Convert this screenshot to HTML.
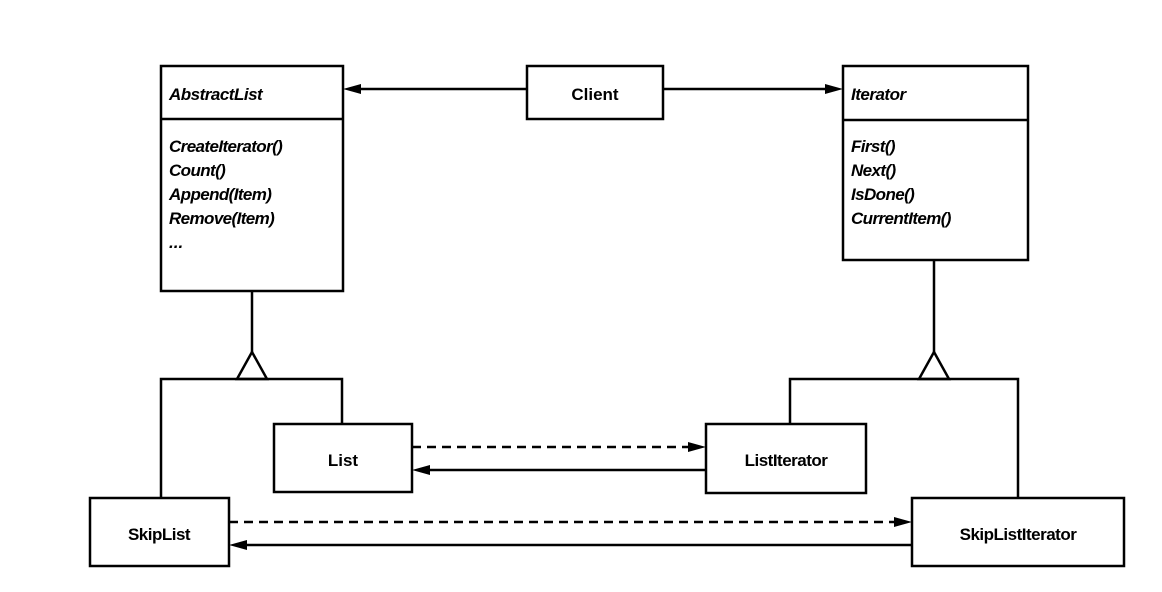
<!DOCTYPE html>
<html><head><meta charset="utf-8"><style>
html,body{margin:0;padding:0;background:#fff;}
svg text{font-family:"Liberation Sans",Arial,sans-serif;fill:#000;}
</style></head><body>
<svg width="1162" height="587" viewBox="0 0 1162 587" xmlns="http://www.w3.org/2000/svg">
<g fill="none" stroke="#000" stroke-width="2.5">
<rect x="161" y="66" width="182" height="225"/>
<line x1="161" y1="119" x2="343" y2="119"/>
<rect x="527" y="66" width="136" height="53"/>
<rect x="843" y="66" width="185" height="194"/>
<line x1="843" y1="120" x2="1028" y2="120"/>
<rect x="274" y="424" width="138" height="68"/>
<rect x="706" y="424" width="160" height="69"/>
<rect x="90" y="498" width="139" height="68"/>
<rect x="912" y="498" width="212" height="68"/>
<line x1="527" y1="89" x2="358" y2="89"/>
<line x1="663" y1="89" x2="826" y2="89"/>
<line x1="252" y1="291" x2="252" y2="352"/>
<polygon points="252,352 237,379 267,379"/>
<polyline points="161,498 161,379 342,379 342,424"/>
<line x1="934" y1="260" x2="934" y2="352"/>
<polygon points="934,352 919,379 949,379"/>
<polyline points="790,424 790,379 1018,379 1018,498"/>
<line x1="412" y1="447" x2="690" y2="447" stroke-dasharray="9,6"/>
<line x1="229" y1="522" x2="896" y2="522" stroke-dasharray="9,6"/>
<line x1="706" y1="470" x2="428" y2="470"/>
<line x1="912" y1="545" x2="245" y2="545"/>
</g>
<g fill="#000">
<polygon points="343,89 361,84 361,94"/>
<polygon points="843,89 825,84 825,94"/>
<polygon points="706,447 688,442 688,452"/>
<polygon points="912,522 894,517 894,527"/>
<polygon points="412,470 430,465 430,475"/>
<polygon points="229,545 247,540 247,550"/>
</g>
<g font-size="17" font-weight="bold">
<text x="169" y="100" font-style="italic" letter-spacing="-0.5">AbstractList</text>
<text x="169" y="152" font-style="italic" letter-spacing="-0.6">CreateIterator()</text>
<text x="169" y="176" font-style="italic" letter-spacing="-0.6">Count()</text>
<text x="169" y="200" font-style="italic" letter-spacing="-0.6">Append(Item)</text>
<text x="169" y="224" font-style="italic" letter-spacing="-0.6">Remove(Item)</text>
<text x="169" y="248" font-style="italic">...</text>
<text x="595" y="100" text-anchor="middle">Client</text>
<text x="851" y="100" font-style="italic" letter-spacing="-0.5">Iterator</text>
<text x="851" y="152" font-style="italic" letter-spacing="-0.6">First()</text>
<text x="851" y="176" font-style="italic" letter-spacing="-0.6">Next()</text>
<text x="851" y="200" font-style="italic" letter-spacing="-0.6">IsDone()</text>
<text x="851" y="224" font-style="italic" letter-spacing="-0.6">CurrentItem()</text>
<text x="343" y="466" text-anchor="middle">List</text>
<text x="786" y="466" text-anchor="middle" letter-spacing="-0.5">ListIterator</text>
<text x="159" y="540" text-anchor="middle" letter-spacing="-0.5">SkipList</text>
<text x="1018" y="540" text-anchor="middle" letter-spacing="-0.5">SkipListIterator</text>
</g>
</svg>
</body></html>
